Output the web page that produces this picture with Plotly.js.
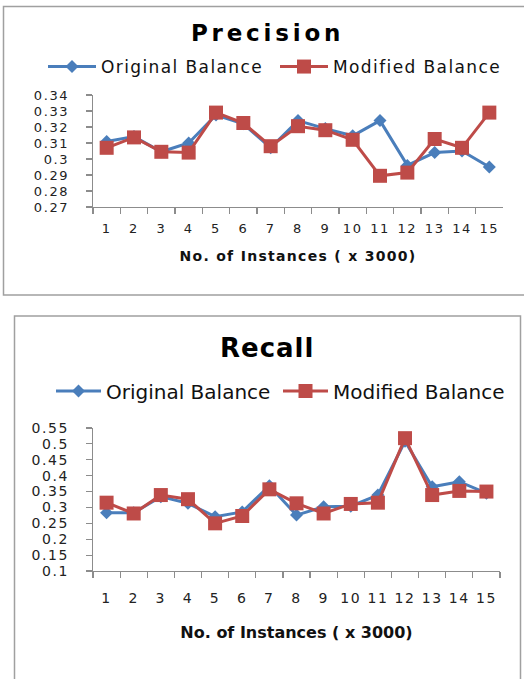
<!DOCTYPE html>
<html>
<head>
<meta charset="utf-8">
<script src="https://cdn.plot.ly/plotly-3.0.1.min.js"></script>
<style>
  html, body { margin: 0; padding: 0; background: #fff; }
  #chart { width: 524px; height: 679px; }
  .xtick text, .ytick text { letter-spacing: 1.6px; }
  .x2tick text, .y2tick text { letter-spacing: 1.6px; }
  .legend .legendtext { letter-spacing: 1.4px; }
  .annotation[data-index="0"] .annotation-text { letter-spacing: 3.8px; }
  .annotation[data-index="1"] .annotation-text { letter-spacing: 1px; }
  .xtitle { letter-spacing: 1.3px; }
</style>
</head>
<body>
<div id="chart"></div>
<script>
const categories = ['1','2','3','4','5','6','7','8','9','10','11','12','13','14','15'];
const seriesNames = ['Original Balance', 'Modified Balance'];

const precisionOriginal = [0.311, 0.314, 0.3045, 0.310, 0.3275, 0.322, 0.307, 0.324, 0.319, 0.3145, 0.324, 0.296, 0.304, 0.305, 0.295];
const precisionModified = [0.307, 0.3135, 0.3045, 0.304, 0.329, 0.3225, 0.308, 0.3205, 0.318, 0.312, 0.2895, 0.2915, 0.3125, 0.307, 0.329];

const recallOriginal = [0.283, 0.283, 0.334, 0.313, 0.271, 0.286, 0.368, 0.276, 0.302, 0.304, 0.339, 0.508, 0.365, 0.381, 0.345];
const recallModified = [0.315, 0.281, 0.339, 0.326, 0.25, 0.273, 0.357, 0.313, 0.281, 0.311, 0.315, 0.518, 0.339, 0.352, 0.35];

const titles = ['Precision', 'Recall'];
const xTitle = 'No. of Instances ( x 3000)';

const W = 524, H = 679;
const px = v => v / W;
const py = v => 1 - v / H;

const BLUE = '#4A7EBB';
const RED = '#BE4B48';
const FONT = 'DejaVu Sans, sans-serif';

function blue(x, y, xa, ya, leg) {
  return { x: x, y: y, xaxis: xa, yaxis: ya, legend: leg, name: seriesNames[0], type: 'scatter', mode: 'lines+markers',
    line: { color: BLUE, width: 3 }, marker: { symbol: 'diamond', size: 10, color: BLUE } };
}
function red(x, y, xa, ya, leg) {
  return { x: x, y: y, xaxis: xa, yaxis: ya, legend: leg, name: seriesNames[1], type: 'scatter', mode: 'lines+markers',
    line: { color: RED, width: 3 }, marker: { symbol: 'square', size: 14, color: RED } };
}

const data = [
  blue(categories, precisionOriginal, 'x', 'y', 'legend'),
  red(categories, precisionModified, 'x', 'y', 'legend'),
  blue(categories, recallOriginal, 'x2', 'y2', 'legend2'),
  red(categories, recallModified, 'x2', 'y2', 'legend2')
];

const axisCommon = {
  showline: true, linecolor: '#8c8c8c', linewidth: 1.2,
  showgrid: false, zeroline: false,
  ticks: 'outside', ticklen: 6, tickcolor: '#8c8c8c', tickwidth: 1.2
};

const layout = {
  width: W, height: H,
  margin: { l: 0, r: 0, t: 0, b: 0 },
  paper_bgcolor: '#fff', plot_bgcolor: '#fff',
  font: { family: FONT, color: '#222' },
  showlegend: true,
  xaxis: Object.assign({}, axisCommon, {
    domain: [px(93), px(503)], anchor: 'y', type: 'category', range: [-0.5, 14.5],
    tickson: 'boundaries', ticklabelstandoff: 9,
    tickfont: { family: FONT, size: 13, color: '#222' },
    title: { text: xTitle, font: { family: FONT, size: 14, weight: 'bold', color: '#111' }, standoff: 16 }
  }),
  yaxis: Object.assign({}, axisCommon, {
    domain: [py(207), py(95)], anchor: 'x', range: [0.27, 0.34], dtick: 0.01, tick0: 0.27,
    ticklabelstandoff: 14,
    tickfont: { family: FONT, size: 13, color: '#222' }
  }),
  xaxis2: Object.assign({}, axisCommon, {
    domain: [px(93), px(500)], anchor: 'y2', type: 'category', range: [-0.5, 14.5],
    tickson: 'boundaries', ticklabelstandoff: 14,
    tickfont: { family: FONT, size: 14, color: '#222' },
    title: { text: xTitle, font: { family: FONT, size: 16, weight: 'bold', color: '#111' }, standoff: 21 }
  }),
  yaxis2: Object.assign({}, axisCommon, {
    domain: [py(571), py(428)], anchor: 'x2', range: [0.1, 0.55], dtick: 0.05, tick0: 0.1,
    ticklabelstandoff: 14,
    tickfont: { family: FONT, size: 14, color: '#222' }
  }),
  legend: {
    orientation: 'h', x: px(43), y: py(67), xanchor: 'left', yanchor: 'middle',
    font: { family: FONT, size: 17, color: '#111' }, itemwidth: 48,
    entrywidth: 169, entrywidthmode: 'pixels', bgcolor: 'rgba(0,0,0,0)', borderwidth: 0
  },
  legend2: {
    orientation: 'h', x: px(51), y: py(391), xanchor: 'left', yanchor: 'middle',
    font: { family: FONT, size: 20, color: '#111' }, itemwidth: 45,
    entrywidth: 167, entrywidthmode: 'pixels', bgcolor: 'rgba(0,0,0,0)', borderwidth: 0
  },
  annotations: [
    { text: '<b>' + titles[0] + '</b>', xref: 'paper', yref: 'paper', x: px(267), y: py(33),
      xanchor: 'center', yanchor: 'middle', showarrow: false, font: { family: FONT, size: 23, color: '#000' } },
    { text: '<b>' + titles[1] + '</b>', xref: 'paper', yref: 'paper', x: px(267), y: py(348),
      xanchor: 'center', yanchor: 'middle', showarrow: false, font: { family: FONT, size: 26, color: '#000' } }
  ],
  shapes: [
    { type: 'rect', xref: 'paper', yref: 'paper', x0: px(3.5), x1: px(526), y0: py(295), y1: py(6.5),
      line: { color: '#a0a0a0', width: 1.5 }, fillcolor: 'rgba(0,0,0,0)', layer: 'below' },
    { type: 'rect', xref: 'paper', yref: 'paper', x0: px(14.5), x1: px(520.5), y0: py(690), y1: py(316),
      line: { color: '#a0a0a0', width: 1.5 }, fillcolor: 'rgba(0,0,0,0)', layer: 'below' }
  ]
};

Plotly.newPlot('chart', data, layout, { displayModeBar: false, staticPlot: true });
</script>
</body>
</html>
